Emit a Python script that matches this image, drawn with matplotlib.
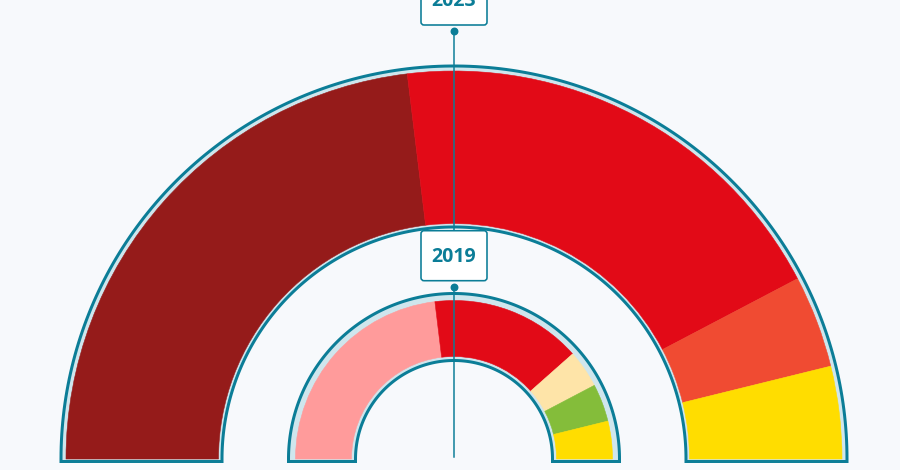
#!/usr/bin/env python3
import numpy as np
import matplotlib
matplotlib.use("Agg")
import matplotlib.pyplot as plt
from matplotlib.patches import Wedge, Polygon, FancyBboxPatch

# seats per party, left to right
seats_2023 = [12, 10, 2, 2]
colors_2023 = ["#951b1a", "#e20a17", "#f04b32", "#ffdd00"]
seats_2019 = [12, 8, 2, 2, 2]
colors_2019 = ["#ff9b9b", "#e20a17", "#fee4a8", "#84bd3a", "#ffdd00"]
labels = ["2023", "2019"]

BG = "#f7f9fc"
TEAL = "#0b7d97"
GAP = "#cfe6ed"
PX = 72 / 100  # points per pixel

W, H = 900, 470
cx, cy = 454, H - 459


def ring_outline(ax, r_in, r_out, drop=2.5):
  t = np.linspace(0, np.pi, 200)
  outer = np.column_stack([cx + r_out * np.cos(t), cy + r_out * np.sin(t)])
  inner = np.column_stack([cx + r_in * np.cos(t[::-1]), cy + r_in * np.sin(t[::-1])])
  pts = np.vstack([outer,
                   [[cx - r_out, cy - drop], [cx - r_in, cy - drop]],
                   inner,
                   [[cx + r_in, cy - drop], [cx + r_out, cy - drop]]])
  ax.add_patch(Polygon(pts, closed=True, facecolor=GAP, edgecolor=TEAL,
                       linewidth=3 * PX, joinstyle="miter", zorder=1))


def ring(ax, seats, colors, r_in, r_out):
  step = 180.0 / sum(seats)
  start = 180.0
  for n, c in zip(seats, colors):
    end = start - n * step
    ax.add_patch(Wedge((cx, cy), r_out, end, start, width=r_out - r_in,
                       facecolor=c, edgecolor=c, linewidth=0.4, zorder=2))
    start = end


def label_box(ax, text, y_center, y_text):
  bw, bh = 66, 50
  ax.add_patch(FancyBboxPatch((cx - bw / 2, y_center - bh / 2), bw, bh,
                              boxstyle="round,pad=0,rounding_size=3",
                              facecolor="white", edgecolor=TEAL,
                              linewidth=1.6 * PX, zorder=5))
  ax.text(cx, y_text, text, ha="center", va="center", color=TEAL,
          fontsize=14, fontweight="bold", family=["Open Sans", "DejaVu Sans"],
          zorder=6)


fig = plt.figure(figsize=(W / 100, H / 100), dpi=100, facecolor=BG)
ax = fig.add_axes([0, 0, 1, 1])
ax.set_xlim(0, W)
ax.set_ylim(0, H)
ax.axis("off")
ax.set_facecolor(BG)

# outer ring (2023) and inner ring (2019)
ring_outline(ax, 232, 393)
ring(ax, seats_2023, colors_2023, 235.5, 388)
ring_outline(ax, 98.5, 165.5)
ring(ax, seats_2019, colors_2019, 102.5, 158.5)

# stems from the labels to the centre
ax.plot([cx, cx], [H - 30.5, H - 231], color=TEAL, lw=1.5 * PX, zorder=4)
ax.plot([cx, cx], [H - 286.5, H - 457], color=TEAL, lw=1.5 * PX, zorder=4)
ax.plot([cx, cx], [H - 30.5, H - 286.5], "o", color=TEAL, ms=6.5 * PX, zorder=4)

label_box(ax, labels[0], H - 0, H - 1.5)
label_box(ax, labels[1], H - 255.7, H - 257)

fig.savefig("out.png", dpi=100, facecolor=BG)
